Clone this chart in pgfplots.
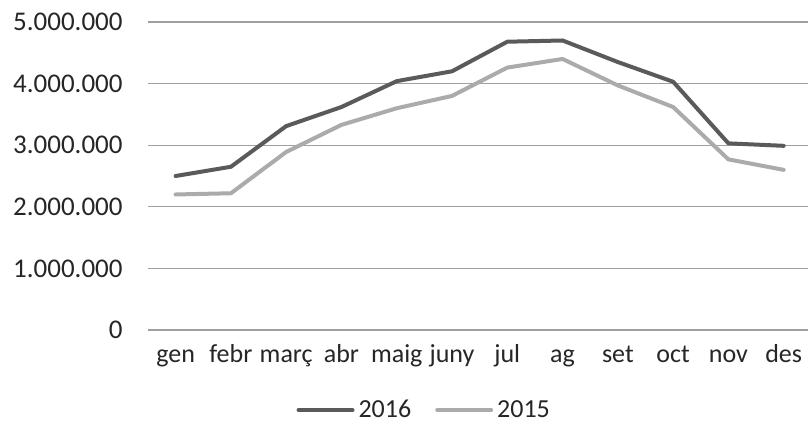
\documentclass[border=0pt]{standalone}
\usepackage{pgfplots}
\pgfplotsset{compat=1.18}
\usepackage{fontspec}
\setmainfont{Carlito}
\definecolor{c2016}{HTML}{5A5A5A}
\definecolor{c2015}{HTML}{ABABAB}
\definecolor{gridc}{HTML}{A0A0A0}
\begin{document}
\begin{tikzpicture}
\path[use as bounding box] (0,0) rectangle (404bp,216bp);
\begin{axis}[
  at={(74bp,51bp)}, anchor=south west,
  scale only axis,
  width=330bp, height=154bp,
  xmin=-0.5, xmax=11.44,
  ymin=0, ymax=5000000,
  ytick={0,1000000,2000000,3000000,4000000,5000000},
  xtick={0,...,11},
  xticklabels={gen,febr,març,abr,maig,juny,jul,ag,set,oct,nov,des},
  scaled y ticks=false,
  /pgf/number format/.cd, fixed, 1000 sep={.}, assume math mode=true,
  /pgfplots/.cd,
  ymajorgrids,
  grid style={gridc, line width=0.6bp},
  axis line style={draw=none},
  major tick length=0pt,
  tick label style={font=\fontsize{13.5bp}{16bp}\selectfont, text=black!85},
  yticklabel style={anchor=east, inner sep=0pt, xshift=-12.5bp},
  xticklabel style={anchor=north, inner sep=0pt, yshift=-9bp, text height=0.72em, text depth=0.22em, font=\fontsize{13bp}{16bp}\selectfont},
  legend style={at={(0.42,-0.26)}, anchor=center, draw=none, legend columns=2,
    font=\fontsize{13bp}{16bp}\selectfont, text=black!85,
    /tikz/every even column/.append style={column sep=10bp}},
  legend image code/.code={\draw[#1] (0bp,0bp) -- (27bp,0bp);},
  every axis plot/.append style={line width=2bp, line cap=round, line join=round},
]
\addplot[c2016] coordinates {
(0,2500000) (1,2650000) (2,3310000) (3,3620000) (4,4040000) (5,4200000)
(6,4680000) (7,4700000) (8,4350000) (9,4030000) (10,3030000) (11,2990000)};
\addlegendentry{2016}
\addplot[c2015] coordinates {
(0,2200000) (1,2220000) (2,2890000) (3,3330000) (4,3600000) (5,3800000)
(6,4260000) (7,4400000) (8,3970000) (9,3620000) (10,2770000) (11,2600000)};
\addlegendentry{2015}
\end{axis}
\end{tikzpicture}
\end{document}
